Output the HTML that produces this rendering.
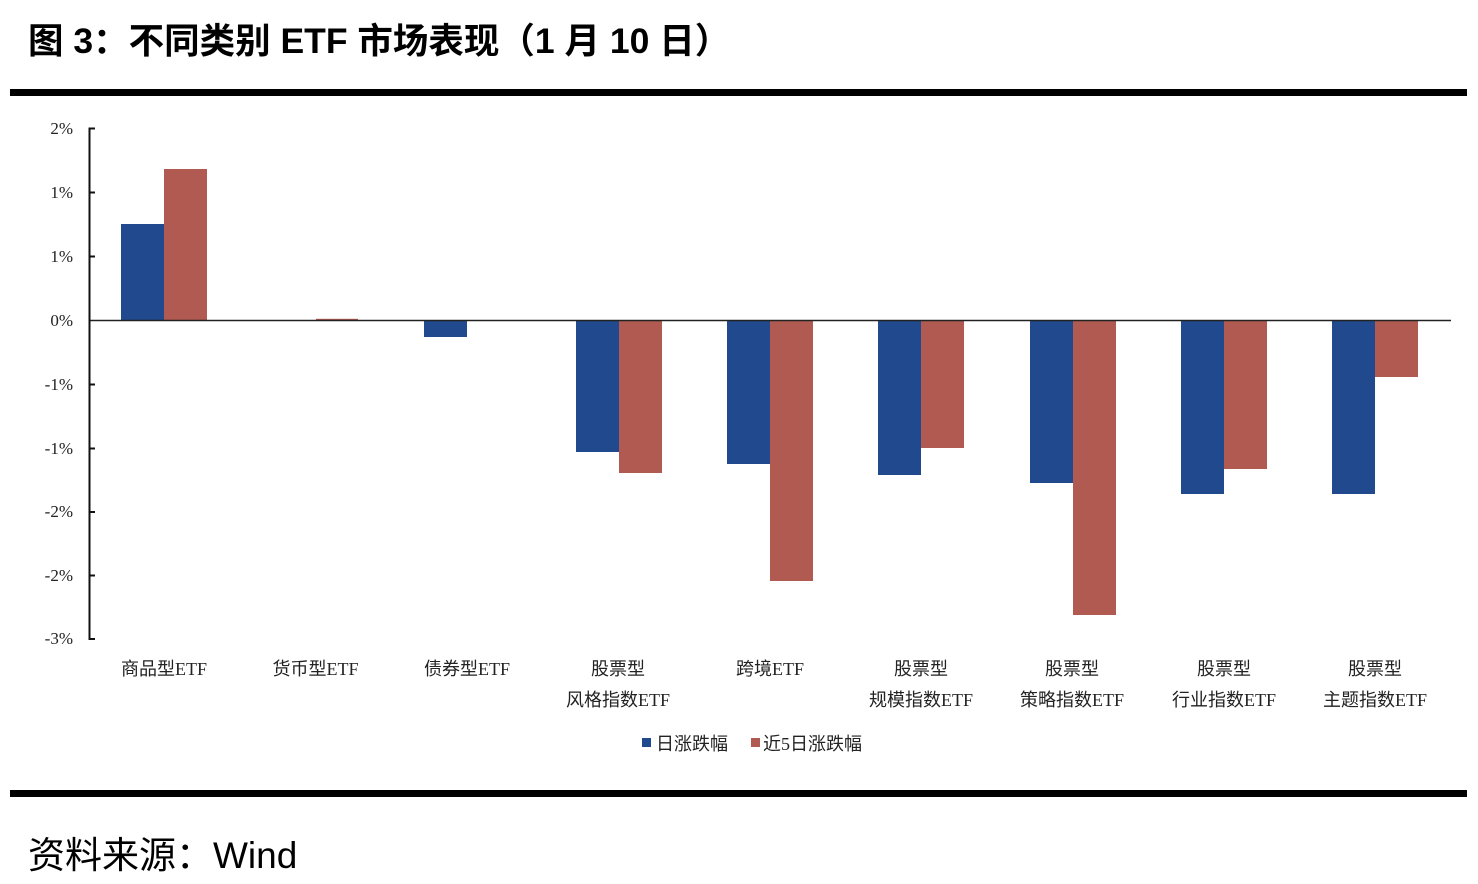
<!DOCTYPE html>
<html><head><meta charset="utf-8"><style>
html,body{margin:0;padding:0;background:#fff;}
svg{display:block;}
</style></head><body>
<svg width="1478" height="884" viewBox="0 0 1478 884" xmlns="http://www.w3.org/2000/svg">
<rect x="0" y="0" width="1478" height="884" fill="#fff"/>
<text x="28" y="53" font-family="'Liberation Sans','Noto Sans CJK SC',sans-serif" font-weight="bold" font-size="35.5" fill="#000">图 3：不同类别 ETF 市场表现（1 月 10 日）</text>
<rect x="10" y="89" width="1457" height="7" fill="#000"/>
<rect x="10" y="790" width="1457" height="7" fill="#000"/>
<text x="28" y="868" font-family="'Liberation Sans','Noto Sans CJK SC',sans-serif" font-size="37" fill="#000">资料来源：Wind</text>

<!-- bars -->
<g fill="#204A8D">
<rect x="121" y="224" width="43" height="96.5"/>
<rect x="424" y="320.5" width="43" height="16.5"/>
<rect x="576" y="320.5" width="43" height="131.5"/>
<rect x="727" y="320.5" width="43" height="143.5"/>
<rect x="878" y="320.5" width="43" height="154.5"/>
<rect x="1030" y="320.5" width="43" height="162.5"/>
<rect x="1181" y="320.5" width="43" height="173.5"/>
<rect x="1332" y="320.5" width="43" height="173.5"/>
</g>
<g fill="#B05A52">
<rect x="164" y="169" width="43" height="151.5"/>
<rect x="316" y="318.8" width="42" height="1.7"/>
<rect x="619" y="320.5" width="43" height="152.5"/>
<rect x="770" y="320.5" width="43" height="260.5"/>
<rect x="921" y="320.5" width="43" height="127.5"/>
<rect x="1073" y="320.5" width="43" height="294.5"/>
<rect x="1224" y="320.5" width="43" height="148.5"/>
<rect x="1375" y="320.5" width="43" height="56.5"/>
</g>

<!-- axes -->
<line x1="89.5" y1="320.5" x2="1451" y2="320.5" stroke="#222" stroke-width="1.6"/>
<line x1="89.5" y1="127.5" x2="89.5" y2="640" stroke="#111" stroke-width="2"/>
<g stroke="#111" stroke-width="2">
<line x1="89.5" y1="128.5" x2="95" y2="128.5"/>
<line x1="89.5" y1="192.5" x2="95" y2="192.5"/>
<line x1="89.5" y1="256.5" x2="95" y2="256.5"/>
<line x1="89.5" y1="384.5" x2="95" y2="384.5"/>
<line x1="89.5" y1="448.5" x2="95" y2="448.5"/>
<line x1="89.5" y1="512" x2="95" y2="512"/>
<line x1="89.5" y1="575.5" x2="95" y2="575.5"/>
<line x1="89.5" y1="639" x2="95" y2="639"/>
</g>
<g font-family="'Liberation Serif',serif" font-size="17" fill="#222" text-anchor="end">
<text x="73" y="134">2%</text>
<text x="73" y="198">1%</text>
<text x="73" y="262">1%</text>
<text x="73" y="326">0%</text>
<text x="73" y="390">-1%</text>
<text x="73" y="454">-1%</text>
<text x="73" y="517">-2%</text>
<text x="73" y="581">-2%</text>
<text x="73" y="644">-3%</text>
</g>

<!-- category labels -->
<g font-family="'Liberation Serif','Noto Sans CJK SC',serif" font-size="18" fill="#222" text-anchor="middle">
<text x="164" y="675">商品型ETF</text>
<text x="315.5" y="675">货币型ETF</text>
<text x="467" y="675">债券型ETF</text>
<text x="618" y="675">股票型</text>
<text x="618" y="706">风格指数ETF</text>
<text x="770" y="675">跨境ETF</text>
<text x="921" y="675">股票型</text>
<text x="921" y="706">规模指数ETF</text>
<text x="1072" y="675">股票型</text>
<text x="1072" y="706">策略指数ETF</text>
<text x="1224" y="675">股票型</text>
<text x="1224" y="706">行业指数ETF</text>
<text x="1375" y="675">股票型</text>
<text x="1375" y="706">主题指数ETF</text>
</g>

<!-- legend -->
<rect x="642" y="738" width="9" height="9" fill="#204A8D"/>
<rect x="751" y="738" width="9" height="9" fill="#B05A52"/>
<g font-family="'Liberation Serif','Noto Sans CJK SC',serif" font-size="18" fill="#222">
<text x="656" y="750">日涨跌幅</text>
<text x="763" y="750">近5日涨跌幅</text>
</g>
</svg>
</body></html>
